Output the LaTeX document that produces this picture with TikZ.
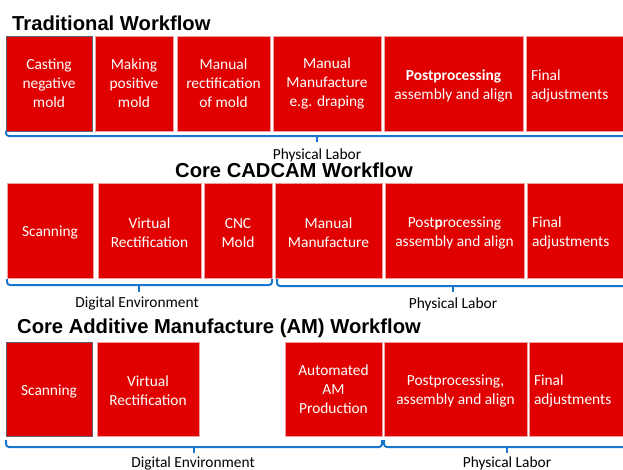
\documentclass[tikz,border=0pt]{standalone}
\usepackage{fontspec}
\setmainfont{Carlito}
\newfontfamily\titlefont{Liberation Sans}
\definecolor{boxred}{RGB}{224,0,0}
\definecolor{boxedge}{RGB}{240,160,160}
\definecolor{darkedge}{RGB}{95,100,125}
\definecolor{bracecol}{RGB}{22,119,205}
\newcommand{\dn}{\rule{0pt}{15pt}}
\tikzset{
  box/.style={fill=boxred, draw=boxedge, line width=0.6pt, inner sep=0pt, text=white,
    align=center, font=\fontsize{15.4}{19}\selectfont},
  darkbox/.style={box, draw=darkedge, line width=0.5pt},
  leftbox/.style={box, align=left, inner xsep=5pt},
  title/.style={anchor=base west, inner sep=0pt, font=\titlefont\bfseries\fontsize{20.2}{24}\selectfont},
  bracelabel/.style={anchor=base, inner sep=0pt, font=\fontsize{15.4}{19}\selectfont},
  brace/.style={draw=bracecol, line width=2pt, rounded corners=3pt},
  tick/.style={draw=bracecol, line width=2pt}
}
\begin{document}
\begin{tikzpicture}[x=1pt,y=-1pt]
\useasboundingbox (0,0) rectangle (623,469);
% ---------- Row 1
\node[title] (t1) at (12,30) {Traditional Workflow};
\node[darkbox, minimum width=86pt, minimum height=95pt] (a1) at (49,83.5) {Casting\\negative\\mold};
\node[box, minimum width=78pt, minimum height=95pt] (a2) at (134,83.5) {Making\\positive\\mold};
\node[box, minimum width=93pt, minimum height=95pt] (a3) at (223.5,83.5) {Manual\\rectification\\of mold};
\node[box, minimum width=108pt, minimum height=95pt] (a4) at (327,83.5) {Manual\\Manufacture\\e.g. draping};
\node[box, minimum width=139pt, minimum height=95pt] (a5) at (453.5,83.5) {\dn\textbf{Postprocessing}\\assembly and align};
\node[leftbox, text width=94pt, minimum height=95pt] (a6) at (578,83.5) {\dn Final\\adjustments};
\draw[brace] (6,131) -- (6,136) -- (640,136);
\draw[tick] (317,136) -- (317,142);
\node[bracelabel] (l1) at (317,159) {Physical Labor};
% ---------- Row 2
\node[title] (t2) at (175,177) {Core CADCAM Workflow};
\node[box, minimum width=86pt, minimum height=95pt] (b1) at (50,230.5) {\dn Scanning};
\node[box, minimum width=103pt, minimum height=95pt] (b2) at (149.5,230.5) {\dn Virtual\\Rectification};
\node[box, minimum width=68pt, minimum height=95pt] (b3) at (238,230.5) {\dn CNC\\Mold};
\node[box, minimum width=107pt, minimum height=95pt] (b4) at (328.5,230.5) {\dn Manual\\Manufacture};
\node[box, minimum width=139pt, minimum height=95pt] (b5) at (454.5,230.5) {\dn Post\textbf{p}rocessing\\assembly and align};
\node[leftbox, text width=93pt, minimum height=95pt] (b6) at (578.5,230.5) {\dn Final\\adjustments};
\draw[brace] (7,279) -- (7,285) -- (272,285) -- (272,279);
\draw[tick] (139,285) -- (139,292);
\node[bracelabel] (l2) at (137,307) {Digital Environment};
\draw[brace] (277,279) -- (277,286) -- (640,286);
\draw[tick] (453,286) -- (453,292);
\node[bracelabel] (l3) at (453,308) {Physical Labor};
% ---------- Row 3
\node[title] (t3) at (17,333) {Core Additive Manufacture (AM) Workflow};
\node[darkbox, minimum width=86pt, minimum height=94pt] (c1) at (49,389) {\dn Scanning};
\node[box, minimum width=102pt, minimum height=94pt] (c2) at (148,389) {\dn Virtual\\Rectification};
\node[box, minimum width=97pt, minimum height=94pt] (c3) at (333.5,389) {Automated\\AM\\Production};
\node[box, minimum width=143pt, minimum height=94pt] (c4) at (455.5,389) {\dn Postprocessing,\\assembly and align};
\node[leftbox, text width=91pt, minimum height=94pt] (c5) at (579.5,389) {\dn Final\\adjustments};
\draw[brace] (6,440) -- (6,447) -- (382,447) -- (382,440);
\draw[tick] (194,447) -- (194,453);
\node[bracelabel] (l4) at (193,467) {Digital Environment};
\draw[brace] (384,440) -- (384,447) -- (640,447);
\draw[tick] (507,447) -- (507,453);
\node[bracelabel] (l5) at (507,467) {Physical Labor};
\end{tikzpicture}
\end{document}
